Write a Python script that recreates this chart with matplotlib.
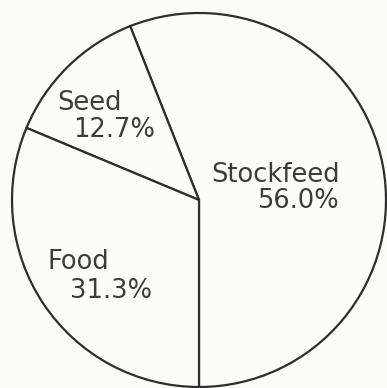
import matplotlib.pyplot as plt

# grain use shares (%)
labels = ["Stockfeed", "Seed", "Food"]
shares = [56.0, 12.7, 31.3]
pct_text = ["56.0%", "12.7%", "31.3%"]

plt.rcParams['font.family'] = ['DejaVu Sans']

fig = plt.figure(figsize=(3.87, 3.88), dpi=100, facecolor='#fcfcf6')
ax = fig.add_axes([0, 0, 1, 1])
ax.set_facecolor('#fcfcf6')

# work in pixel units, y measured upward
cx, cy, r = 199, 388 - 200, 187
wedges, _ = ax.pie(shares, startangle=-90, counterclock=True,
                   center=(cx, cy), radius=r,
                   colors=['#fdfdf8'] * 3,
                   wedgeprops=dict(edgecolor='#2e2e2e', linewidth=1.6))

ax.set_xlim(0, 387)
ax.set_ylim(0, 388)
ax.set_aspect('equal')
ax.axis('off')

txt = dict(color='#3c3c3c', fontsize=18.5)
ax.text(211, 388 - 175, labels[0], ha='left', va='center', **txt)
ax.text(339, 388 - 201, pct_text[0], ha='right', va='center', **txt)
ax.text(57, 388 - 103, labels[1], ha='left', va='center', **txt)
ax.text(73, 388 - 130, pct_text[1], ha='left', va='center', **txt)
ax.text(48, 388 - 262, labels[2], ha='left', va='center', **txt)
ax.text(70, 388 - 291, pct_text[2], ha='left', va='center', **txt)

fig.savefig('out.png', dpi=100, facecolor=fig.get_facecolor())
